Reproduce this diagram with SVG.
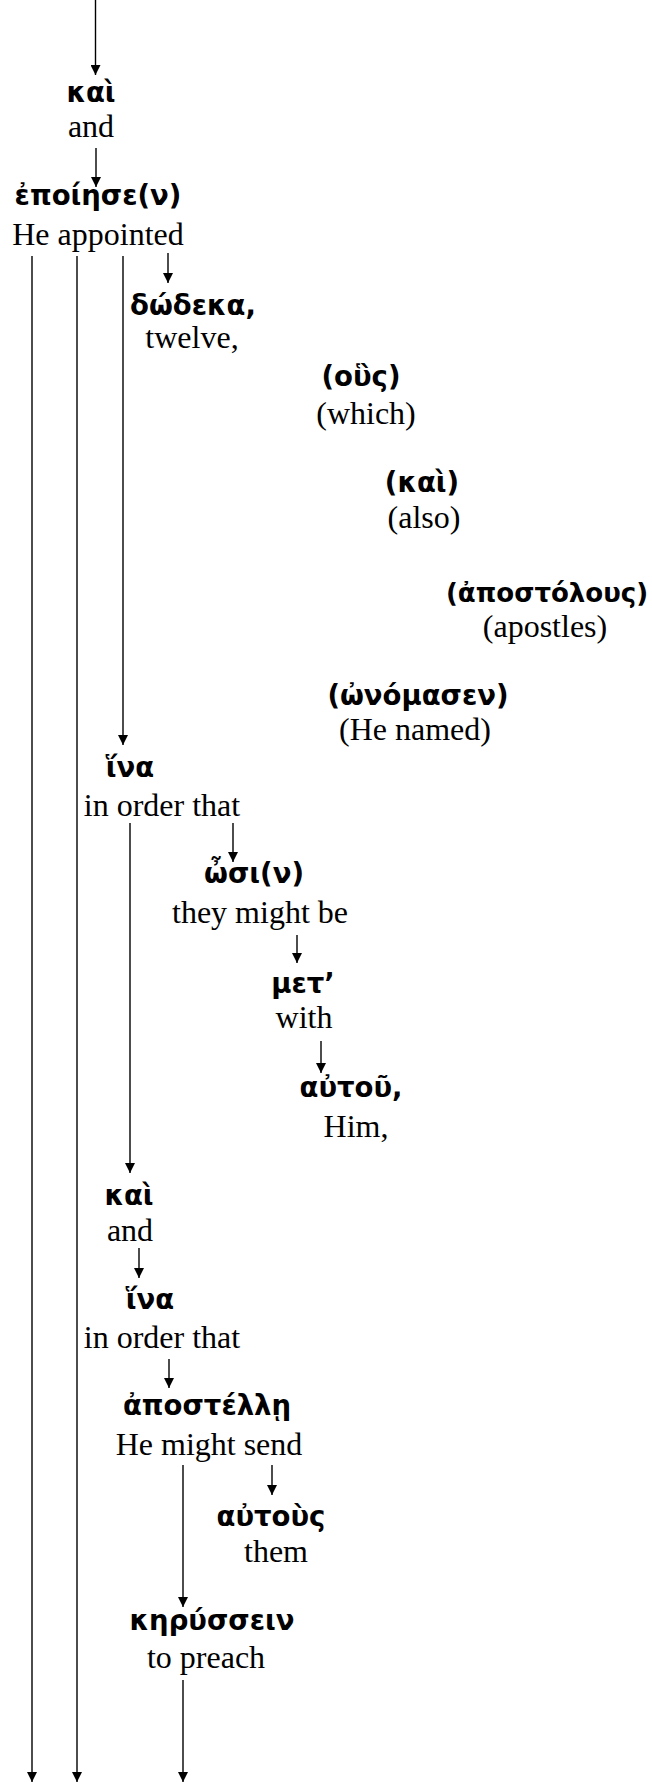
<svg xmlns="http://www.w3.org/2000/svg" width="652" height="1782" viewBox="0 0 652 1782">
<style>
.gk{font-family:"DejaVu Sans","Noto Sans",sans-serif;font-weight:bold;font-size:27.5px;fill:#000;text-anchor:middle}
.en{font-family:"Liberation Serif","Times New Roman",serif;font-size:32px;fill:#000;text-anchor:middle}
.c line{stroke:#000;stroke-width:1.4;fill:none}
</style>
<defs>
<marker id="ah" markerUnits="userSpaceOnUse" markerWidth="10" markerHeight="10" refX="10" refY="5" orient="auto" viewBox="0 0 10 10">
<path d="M0,0 L10,5 L0,10 z" fill="#000"/>
</marker>
</defs>
<rect width="652" height="1782" fill="#fff"/>
<g id="connectors" class="c">
<line x1="95.5" y1="0" x2="95.5" y2="75" marker-end="url(#ah)"/>
<line x1="96" y1="148" x2="96" y2="187" marker-end="url(#ah)"/>
<line x1="32" y1="256" x2="32" y2="1782" marker-end="url(#ah)"/>
<line x1="77" y1="256" x2="77" y2="1782" marker-end="url(#ah)"/>
<line x1="123" y1="256" x2="123" y2="745" marker-end="url(#ah)"/>
<line x1="168" y1="253" x2="168" y2="283" marker-end="url(#ah)"/>
<line x1="130" y1="823" x2="130" y2="1173" marker-end="url(#ah)"/>
<line x1="233" y1="823" x2="233" y2="862" marker-end="url(#ah)"/>
<line x1="297" y1="935" x2="297" y2="963" marker-end="url(#ah)"/>
<line x1="321" y1="1041" x2="321" y2="1073" marker-end="url(#ah)"/>
<line x1="139" y1="1248" x2="139" y2="1278" marker-end="url(#ah)"/>
<line x1="169" y1="1359" x2="169" y2="1388" marker-end="url(#ah)"/>
<line x1="183" y1="1465" x2="183" y2="1607" marker-end="url(#ah)"/>
<line x1="272" y1="1465" x2="272" y2="1495" marker-end="url(#ah)"/>
<line x1="183" y1="1680" x2="183" y2="1782" marker-end="url(#ah)"/>
</g>
<g id="n1"><text class="gk" x="91" y="102">καὶ</text><text class="en" x="91" y="137">and</text></g>
<g id="n2"><text class="gk" x="98" y="205">ἐποίησε(ν)</text><text class="en" x="98" y="245">He appointed</text></g>
<g id="n3"><text class="gk" x="193" y="315">δώδεκα,</text><text class="en" x="192" y="348">twelve,</text></g>
<g id="n4"><text class="gk" x="361" y="386">(οὓς)</text><text class="en" x="366" y="424">(which)</text></g>
<g id="n5"><text class="gk" x="422" y="492">(καὶ)</text><text class="en" x="424" y="528">(also)</text></g>
<g id="n6"><text class="gk" x="547" y="602" style="font-size:26px">(ἀποστόλους)</text><text class="en" x="545" y="637">(apostles)</text></g>
<g id="n7"><text class="gk" x="418" y="705">(ὠνόμασεν)</text><text class="en" x="415" y="740">(He named)</text></g>
<g id="n8"><text class="gk" x="130" y="777">ἵνα</text><text class="en" x="162" y="816">in order that</text></g>
<g id="n9"><text class="gk" x="254" y="883">ὦσι(ν)</text><text class="en" x="260" y="923">they might be</text></g>
<g id="n10"><text class="gk" x="303" y="993">μετ’</text><text class="en" x="304" y="1028">with</text></g>
<g id="n11"><text class="gk" x="351" y="1097">αὐτοῦ,</text><text class="en" x="356" y="1137">Him,</text></g>
<g id="n12"><text class="gk" x="129" y="1205">καὶ</text><text class="en" x="130" y="1241">and</text></g>
<g id="n13"><text class="gk" x="150" y="1309">ἵνα</text><text class="en" x="162" y="1348">in order that</text></g>
<g id="n14"><text class="gk" x="207" y="1415">ἀποστέλλῃ</text><text class="en" x="209" y="1455">He might send</text></g>
<g id="n15"><text class="gk" x="271" y="1526">αὐτοὺς</text><text class="en" x="276" y="1562">them</text></g>
<g id="n16"><text class="gk" x="212" y="1630">κηρύσσειν</text><text class="en" x="206" y="1668">to preach</text></g>
</svg>
